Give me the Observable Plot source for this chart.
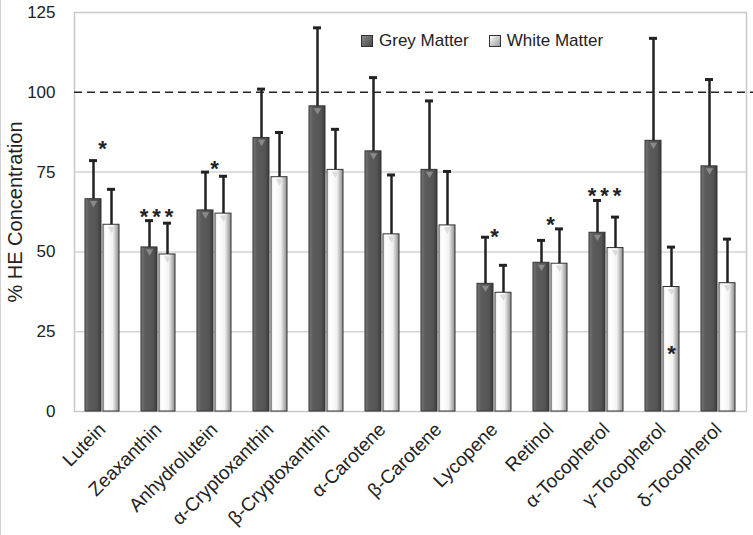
<!DOCTYPE html>
<html>
<head>
<meta charset="utf-8">
<script src="https://cdn.jsdelivr.net/npm/d3@7"></script>
<script src="https://cdn.jsdelivr.net/npm/@observablehq/plot@0.6"></script>
<style>
  html, body { margin: 0; padding: 0; background: #fff; }
  #wrap { position: relative; width: 753px; height: 535px; border-left: 1px solid #d0d0d0; box-sizing: border-box; font-family: "Liberation Sans", Arial, sans-serif; }
  #chart { position: absolute; left: -1px; top: 0; }
  .legend { position: absolute; top: 31px; left: 360px; display: flex; gap: 20px; font-size: 17px; color: #222; align-items: center; }
  .legend .item { display: flex; align-items: center; gap: 6px; }
  .legend .sw { width: 10px; height: 10px; border: 1px solid #333; }
  .sw.grey { background: linear-gradient(135deg, #8a8a8a, #4a4a4a); }
  .sw.white { background: linear-gradient(135deg, #ffffff, #9a9a9a); }
</style>
</head>
<body>
<div id="wrap">
  <div id="chart"></div>
  <div class="legend">
    <div class="item"><span class="sw grey"></span><span>Grey Matter</span></div>
    <div class="item"><span class="sw white"></span><span>White Matter</span></div>
  </div>
</div>
<script>
const categories = ["Lutein","Zeaxanthin","Anhydrolutein","α-Cryptoxanthin","β-Cryptoxanthin","α-Carotene","β-Carotene","Lycopene","Retinol","α-Tocopherol","γ-Tocopherol","δ-Tocopherol"];
const greyValues = [66.5, 51.4, 63.0, 85.7, 95.6, 81.5, 75.7, 40.0, 46.6, 56.0, 84.8, 76.8];
const greyErr    = [12.1, 8.4, 12.0, 15.3, 24.6, 23.1, 21.6, 14.6, 7.0, 10.1, 32.1, 27.2];
const whiteValues = [58.5, 49.2, 62.0, 73.4, 75.7, 55.5, 58.3, 37.2, 46.3, 51.2, 39.0, 40.2];
const whiteErr    = [11.1, 9.8, 11.7, 14.0, 12.7, 18.6, 16.9, 8.6, 10.9, 9.7, 12.5, 13.8];
const sigGrey  = ["*", "***", "*", "", "", "", "", "*", "*", "***", "", ""];
const sigGreyY = [84.2, 62.8, 78.0, 0, 0, 0, 0, 56.7, 60.4, 69.3, 0, 0];
const sigWhite  = ["", "", "", "", "", "", "", "", "", "", "*", ""];
const sigWhiteY = [0, 0, 0, 0, 0, 0, 0, 0, 0, 0, 19.8, 0];
const yTicks = [0, 25, 50, 75, 100, 125];
const gridLines = [25, 50, 75];
const refLine = [100];

const grey = categories.map((c, i) => ({cat: c, v: greyValues[i], e: greyErr[i]}));
const white = categories.map((c, i) => ({cat: c, v: whiteValues[i], e: whiteErr[i]}));
const starsG = categories.map((c, i) => ({cat: c, s: sigGrey[i], y: sigGreyY[i]})).filter(d => d.s);
const starsW = categories.map((c, i) => ({cat: c, s: sigWhite[i], y: sigWhiteY[i]})).filter(d => d.s);

const chart = Plot.plot({
  width: 753,
  height: 535,
  marginLeft: 74,
  marginRight: 7,
  marginTop: 12,
  marginBottom: 124,
  style: {fontFamily: "'Liberation Sans', Arial, sans-serif", color: "#222", background: "transparent"},
  x: {domain: categories, padding: 0},
  y: {domain: [0, 125]},
  marks: [
    Plot.ruleY(gridLines, {stroke: "#d6d6d6", strokeWidth: 1.5}),
    Plot.frame({stroke: "#c8c8c8", strokeWidth: 1.5}),
    Plot.axisX({label: null, tickSize: 0, tickPadding: 15, tickRotate: -45, fontSize: 19, fill: "#222", dx: 0}),
    Plot.axisY({ticks: yTicks, tickSize: 0, tickPadding: 19, fontSize: 17, fill: "#222", label: null}),
    Plot.axisY({ticks: [], tickSize: 0, label: "% HE Concentration", labelAnchor: "center", labelArrow: "none", labelOffset: 67, fontSize: 20, fill: "#222"}),
    Plot.barY(grey, {x: "cat", y: "v", fill: "url(#gradGrey)", stroke: "#333", strokeWidth: 1, insetLeft: 11, insetRight: 29}),
    Plot.barY(white, {x: "cat", y: "v", fill: "url(#gradWhite)", stroke: "#333", strokeWidth: 1, insetLeft: 29, insetRight: 11}),
    Plot.dot(grey, {x: "cat", y: "v", dx: -9, dy: 4, symbol: "triangle2", r: 3.5, rotate: 180, fill: "#8a8a8a", stroke: "none"}),
    Plot.dot(white, {x: "cat", y: "v", dx: 9, dy: 4, symbol: "triangle2", r: 3.5, rotate: 180, fill: "#dcdcdc", stroke: "none"}),
    Plot.ruleY(refLine, {stroke: "#222", strokeWidth: 1.6, strokeDasharray: "8,5", insetRight: -7}),
    Plot.ruleX(grey, {x: "cat", y1: "v", y2: d => d.v + d.e, dx: -9, stroke: "#222", strokeWidth: 2.5}),
    Plot.ruleX(white, {x: "cat", y1: "v", y2: d => d.v + d.e, dx: 9, stroke: "#222", strokeWidth: 2.5}),
    Plot.tickY(grey, {x: "cat", y: d => d.v + d.e, stroke: "#222", strokeWidth: 3, insetLeft: 15, insetRight: 33}),
    Plot.tickY(white, {x: "cat", y: d => d.v + d.e, stroke: "#222", strokeWidth: 3, insetLeft: 33, insetRight: 15}),
    Plot.text(starsG, {x: "cat", y: "y", text: "s", fontSize: 22, fontWeight: "bold", fill: "#222", dy: 6}),
    Plot.text(starsW, {x: "cat", y: "y", text: "s", fontSize: 22, fontWeight: "bold", fill: "#222", dx: 9, dy: 6})
  ]
});

const svg = d3.select(chart);
const defs = svg.insert("defs", ":first-child");
const gg = defs.append("linearGradient").attr("id", "gradGrey").attr("x1", "0").attr("x2", "1").attr("y1", "0").attr("y2", "0");
gg.append("stop").attr("offset", "0").attr("stop-color", "#7a7a7a");
gg.append("stop").attr("offset", "0.25").attr("stop-color", "#5c5c5c");
gg.append("stop").attr("offset", "0.75").attr("stop-color", "#545454");
gg.append("stop").attr("offset", "1").attr("stop-color", "#3c3c3c");
const gw = defs.append("linearGradient").attr("id", "gradWhite").attr("x1", "0").attr("x2", "1").attr("y1", "0").attr("y2", "0");
gw.append("stop").attr("offset", "0").attr("stop-color", "#e8e8e8");
gw.append("stop").attr("offset", "0.2").attr("stop-color", "#ffffff");
gw.append("stop").attr("offset", "0.6").attr("stop-color", "#f4f4f4");
gw.append("stop").attr("offset", "1").attr("stop-color", "#8a8a8a");

svg.selectAll("text").filter(function() { return this.textContent.trim() === "***"; }).style("letter-spacing", "4px");

document.getElementById("chart").appendChild(chart);
</script>
</body>
</html>
